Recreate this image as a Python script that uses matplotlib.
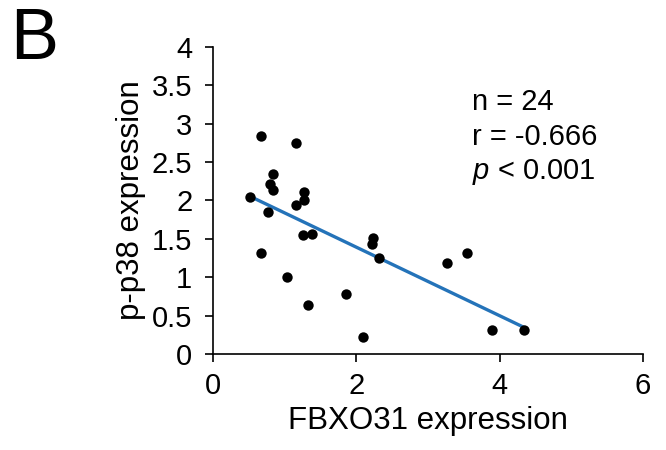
import numpy as np
import matplotlib
matplotlib.use('Agg')
import matplotlib.pyplot as plt

plt.rcParams['font.family'] = ['Liberation Sans', 'DejaVu Sans']
plt.rcParams['mathtext.fontset'] = 'custom'
plt.rcParams['mathtext.it'] = 'Liberation Sans:italic'
plt.rcParams['mathtext.rm'] = 'Liberation Sans'

# FBXO31 vs p-p38 expression
fbxo31 = [0.665, 1.16, 0.83, 0.79, 0.83, 0.52, 1.27, 1.27, 1.16, 0.76, 1.26, 1.38,
          0.665, 1.03, 1.33, 1.86, 2.10, 2.24, 2.22, 2.31, 3.26, 3.55, 3.90, 4.34]
pp38 = [2.84, 2.745, 2.34, 2.21, 2.14, 2.04, 2.115, 2.00, 1.94, 1.85, 1.55, 1.57,
        1.31, 1.01, 0.64, 0.78, 0.225, 1.515, 1.44, 1.255, 1.19, 1.32, 0.32, 0.32]
xticks = [0, 2, 4, 6]
yticks = [0, 0.5, 1, 1.5, 2, 2.5, 3, 3.5, 4]
ytick_labels = ['0', '0.5', '1', '1.5', '2', '2.5', '3', '3.5', '4']
stats = ['n = 24', 'r = -0.666', r'$p$ < 0.001']

x = np.array(fbxo31)
y = np.array(pp38)

fig = plt.figure(figsize=(6.66, 4.5), dpi=100)
ax = fig.add_axes([0.32, 0.213, 0.645, 0.683])

# linear trendline over data range
k, b = np.polyfit(x, y, 1)
xl = np.array([x.min(), x.max()])
ax.plot(xl, k*xl + b, color='#2473b9', lw=2.4, zorder=2)
ax.scatter(x, y, s=56, color='black', zorder=3, linewidths=0)

ax.set_xlim(0, 6)
ax.set_ylim(0, 4)
ax.set_xticks(xticks)
ax.set_yticks(yticks)
ax.set_yticklabels(ytick_labels)
for s in ['top', 'right']:
    ax.spines[s].set_visible(False)
for s in ['left', 'bottom']:
    ax.spines[s].set_linewidth(1.2)
ax.tick_params(direction='out', length=6, width=1.2, labelsize=21)
ax.tick_params(axis='y', pad=9)
ax.tick_params(axis='x', pad=7)
ax.set_xlabel('FBXO31 expression', fontsize=22.5, labelpad=4)
ax.set_ylabel('p-p38 expression', fontsize=22.5, labelpad=4)

for i, t in enumerate(stats):
    ax.text(0.602, 0.822 - i*0.114, t, transform=ax.transAxes, fontsize=21,
            ha='left', va='center')

fig.text(0.015, 0.985, 'B', fontsize=52, ha='left', va='top')

fig.savefig('out.png', dpi=100)
